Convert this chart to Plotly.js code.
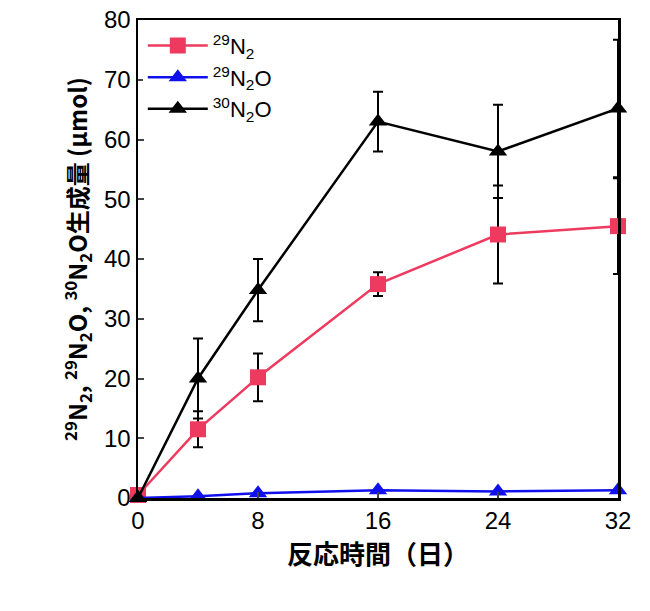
<!DOCTYPE html>
<html><head><meta charset="utf-8">
<script src="https://cdn.plot.ly/plotly-3.0.1.min.js"></script>
<style>body{margin:0;background:#fff}</style></head>
<body><div id="chart" style="width:650px;height:611px"></div>
<script>
// 反応時間（日）
const days = [0, 4, 8, 16, 24, 32];
// 29N2
const n2_29 = [0.5, 11.5, 20.2, 35.8, 44.1, 45.5];
const n2_29Err = [0, 3, 4, 2, 8.2, 8];
// 29N2O
const n2o_29 = [0, 0.3, 0.8, 1.3, 1.1, 1.3];
// 30N2O
const n2o_30 = [0, 20, 34.8, 63, 58, 65.2];
const n2o_30Err = [0, 6.7, 5.2, 5, 7.8, 11.5];

const FONT = "Liberation Sans, Arial, sans-serif";

function series(name, y, err, color, symbol) {
  const t = {
    x: days, y: y, name: name, type: "scatter", mode: "lines+markers",
    line: {color: color, width: 2.5},
    marker: {color: color, symbol: symbol, size: 16},
    cliponaxis: false,
  };
  if (err) t.error_y = {type: "data", array: err, color: "#000", thickness: 2, width: 5};
  return t;
}

const traces = [
  series("<sup>29</sup>N<sub>2</sub>", n2_29, n2_29Err, "#ee3a5f", "square"),
  series("<sup>29</sup>N<sub>2</sub>O", n2o_29, null, "#1010ee", "triangle-up"),
  series("<sup>30</sup>N<sub>2</sub>O", n2o_30, n2o_30Err, "#000000", "triangle-up"),
];

const layout = {
  margin: {l: 138, r: 32, t: 20, b: 113},
  paper_bgcolor: "#fff", plot_bgcolor: "#fff",
  font: {family: FONT, size: 24, color: "#000"},
  showlegend: true,
  legend: {x: 0.01, y: 0.99, xanchor: "left", yanchor: "top", font: {size: 22}, tracegroupgap: 20, itemwidth: 60},
  xaxis: {
    range: [0, 32], tickvals: [0, 8, 16, 24, 32],
    showgrid: false, zeroline: false, showline: true, linecolor: "#000", linewidth: 2.5, mirror: true,
    ticks: "inside", ticklen: 6, tickwidth: 2,
    title: {text: "<b>反応時間（日）</b>", font: {size: 26, family: "Noto Sans CJK JP"}, standoff: 6},
  },
  yaxis: {
    range: [0, 80], dtick: 10,
    showgrid: false, zeroline: false, showline: true, linecolor: "#000", linewidth: 2.5, mirror: true,
    ticks: "inside", ticklen: 6, tickwidth: 2,
    title: {text: "<b><sup>29</sup>N<sub>2</sub>, <sup>29</sup>N<sub>2</sub>O, <sup>30</sup>N<sub>2</sub>O生成量 (μmol)</b>", font: {size: 24, family: "Noto Sans CJK JP"}, standoff: 10},
  },
};

Plotly.newPlot("chart", traces, layout, {displayModeBar: false, staticPlot: true});
</script></body></html>
